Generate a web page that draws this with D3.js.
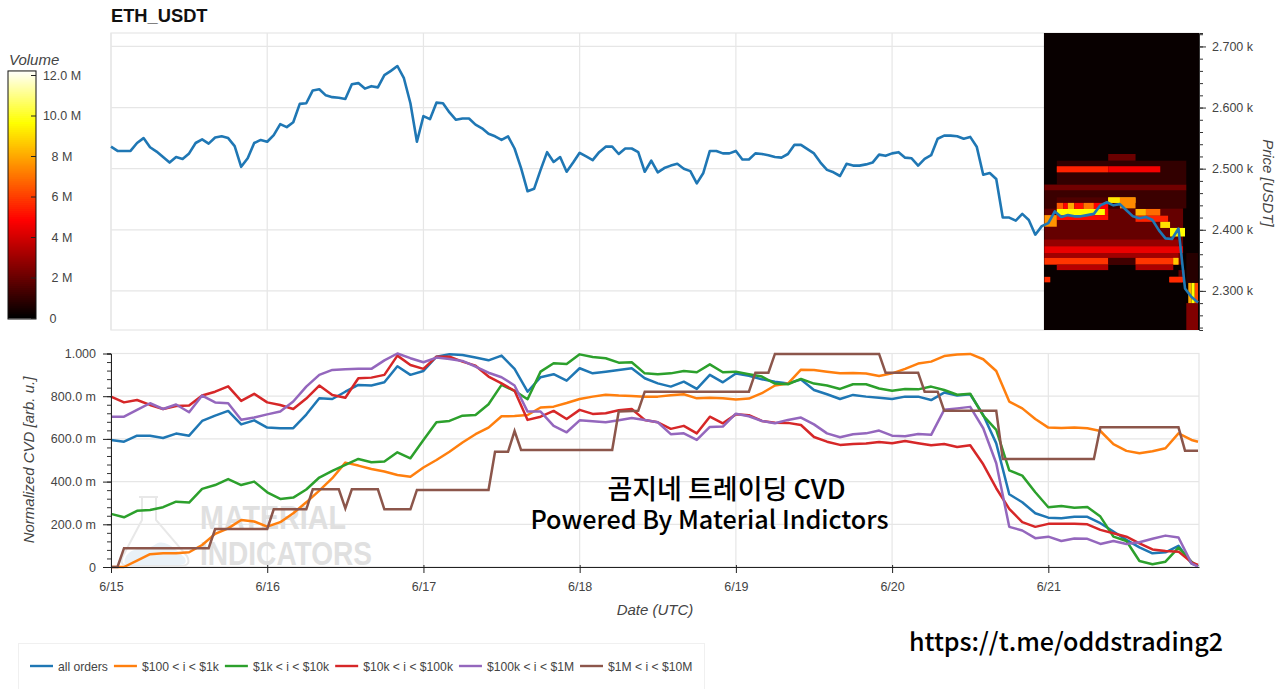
<!DOCTYPE html>
<html>
<head>
<meta charset="utf-8">
<script src="https://cdn.jsdelivr.net/npm/d3@7"></script>
<style>
    html, body { margin: 0; padding: 0; background: #fff; }
    svg { display: block; }
    text { font-family: "Liberation Sans", Arial, sans-serif; }
    .tick text { font-size: 12.5px; fill: #444; }
    .axisLabel { font-size: 15px; font-style: italic; fill: #444; }
    .caption { font-family: "Noto Sans CJK KR", sans-serif; font-weight: 500; fill: #000; }
</style>
</head>
<body>
<svg id="chart" width="1280" height="689"></svg>
<script>
// values
var seriesNames = ["all orders", "$100 < i < $1k", "$1k < i < $10k", "$10k < i < $100k", "$100k < i < $1M", "$1M < i < $10M"];
var seriesColors = ["#1f77b4", "#ff7f0e", "#2ca02c", "#d62728", "#9467bd", "#8c564b"];
var dayLabels = ["6/15", "6/16", "6/17", "6/18", "6/19", "6/20", "6/21"];

// hourly close, first hour is 6/15 00:00
var price = [
    2536,2529,2529,2529,2542,2550,2535,2528,2519,2510,2519,2516,2525,2542,2548,2541,2551,2553,2550,2537,2503,2517,2542,2547,
    2544,2555,2573,2568,2576,2606,2607,2628,2630,2620,2617,2616,2614,2638,2640,2631,2635,2633,2653,2660,2668,2648,2607,2544,
    2586,2581,2608,2607,2592,2580,2582,2582,2572,2566,2557,2553,2547,2553,2533,2501,2463,2467,2498,2527,2511,2519,2495,2510,
    2526,2520,2514,2527,2536,2536,2524,2533,2533,2527,2495,2513,2494,2501,2505,2508,2500,2496,2476,2493,2529,2529,2525,2525,
    2529,2515,2515,2525,2524,2522,2519,2518,2524,2539,2539,2532,2525,2510,2498,2494,2488,2508,2505,2505,2507,2510,2523,2521,
    2525,2527,2518,2517,2505,2516,2522,2549,2554,2554,2553,2549,2552,2536,2490,2493,2483,2420,2420,2415,2426,2416,2392,2406,
    2411,2430,2421,2424,2422,2422,2424,2426,2440,2445,2440,2442,2432,2422,2419,2421,2416,2399,2386,2385,2402,2304,2290,2281
];

// CVD, one value every 2 hours and a last one at hour 167 (milli units)
var cvdAll = [
    595,587,615,615,604,625,615,684,709,731,668,687,653,650,650,714,790,787,821,853,850,865,940,900,918,
    985,996,993,981,968,990,928,821,889,903,873,931,907,915,923,931,884,860,845,868,834,900,865,906,896,
    879,868,860,878,829,809,787,806,798,793,787,798,798,782,817,803,809,712,579,341,303,252,231,
    228,235,235,205,166,127,92,64,69,99,16,5
];
var cvd100 = [
    0,0,30,60,64,64,69,103,155,181,220,213,189,210,252,303,358,416,489,475,459,447,431,423,466,
    501,540,583,622,653,706,707,712,747,751,768,787,798,807,803,801,798,798,804,809,790,793,790,784,789,
    814,850,859,924,923,915,907,909,906,895,907,928,953,962,988,995,998,973,918,775,743,693,653,
    651,653,650,637,575,544,533,542,556,626,595,587
];
var cvd1k = [
    249,233,263,267,280,306,302,366,384,412,384,400,350,319,325,363,419,450,478,506,491,494,537,509,595,
    678,684,709,712,762,853,825,786,915,954,951,996,984,978,957,959,907,903,907,918,912,949,912,915,903,
    892,859,856,881,859,850,834,856,856,836,826,834,832,845,829,807,812,709,642,453,428,350,280,
    286,278,281,236,142,122,28,13,25,91,25,2
];
var cvd10k = [
    798,771,782,759,740,754,756,803,821,846,778,811,771,759,740,789,850,806,793,884,887,900,990,946,928,
    985,985,962,943,892,860,825,689,704,731,693,736,717,720,734,740,689,678,647,661,626,704,673,715,711,
    684,676,675,665,609,587,572,576,578,586,580,590,580,570,576,562,570,481,369,272,210,188,202,
    202,202,200,174,158,142,111,82,75,72,22,10
];
var cvd100k = [
    704,704,736,767,740,761,725,803,771,767,690,700,715,728,775,845,900,923,926,928,928,968,1000,978,959,
    981,974,965,939,910,889,850,728,728,661,631,687,683,678,687,698,689,678,622,626,595,656,658,718,706,
    684,673,689,700,668,626,608,622,626,639,615,612,623,619,736,743,750,650,486,188,171,135,142,
    122,133,132,108,122,108,116,132,147,138,17,2
];
// the $1M line only moves in steps so it keeps its own break points
var cvd1mHours = [0,1,2,15,16,24,25,30,31,35,36,37,41,42,46,47,58,59,61,62,63,77,78,81,82,98,99,101,102,118,119,124,125,127,128,136,137,151,152,164,165,167];
var cvd1m = [0,0,88,88,178,178,270,270,364,364,275,364,364,270,270,361,361,540,540,637,548,548,728,732,821,821,910,910,998,998,910,910,821,821,732,732,506,506,654,654,545,545];

// volume heatmap, drawn as blocks in this order (later ones lie on top)
var heatFrom = [145.3,153.2,143.4,143.4,145.3,143.4,145.3,153.2,153.2,145.3,146.3,147,148,149.4,151,153.2,155,145.3,152.7,157.4,159,145.3,157.4,143.4,161.2,162.7,143.4,143.4,143.4,143.4,153.2,157.4,163.2,145.3,157.4,164,162.6,143.4,162.6,165.2,165.2,165.5,166,166.5,165.2];
var heatTo = [165.2,157.4,165.2,165.2,153.2,164.7,153.2,161.2,157.4,146.3,147,148,149.4,151,153.2,155,157.4,152.7,153.2,159,161.2,153.2,162.4,145.3,162.7,165,164,164.7,164,153.2,157.4,164,164,153.2,163.2,165,165,144.3,164.6,167,167,166,166.5,167,167];
var heatHigh = [2513,2524,2474,2464,2504,2435,2453,2504,2453,2444,2444,2444,2444,2444,2444,2453,2453,2434,2434,2434,2434,2424,2423,2424,2413,2403,2384,2373,2362,2354,2354,2354,2354,2343,2343,2334,2323,2323,2323,2362,2280,2313,2313,2313,2236];
var heatLow = [2474,2513,2464,2435,2494,2343,2444,2494,2444,2434,2434,2434,2434,2434,2434,2444,2435,2424,2424,2423,2423,2416,2413,2405,2403,2389,2373,2362,2354,2343,2343,2343,2343,2334,2334,2323,2314,2314,2314,2313,2236,2280,2280,2280,2236];
var heatVolume = [0.9,2.0,2.1,1.1,5.4,1.9,1.5,4.6,8.4,6.5,4.8,8.0,5.0,7.0,4.8,9.2,7.4,9.6,5.0,8.2,6.8,5.0,5.4,7.6,9.0,9.6,2.8,4.4,3.0,5.8,1.2,5.8,8.6,3.4,3.2,1.8,5.6,5.6,5.6,0.7,2.4,8.0,9.6,6.2,2.4];

var priceTicks = [2300, 2400, 2500, 2600, 2700];
var priceMinor = d3.range(2240, 2721, 20);
var cvdTicks = [0, 200, 400, 600, 800, 1000];
var cvdMinor = d3.range(0, 1001, 40);
var volumeTicks = [0, 2, 4, 6, 8, 10, 12];

var t0 = Date.UTC(2021, 5, 15);
function hourDate(h) { return new Date(t0 + h * 3600e3); }
var cvdHours = d3.range(0, 167, 2).concat([167]);
var dayDates = dayLabels.map(function(d, i) { return hourDate(i * 24); });

var svg = d3.select("#chart");

var left = 111, right = 1199;
var x = d3.scaleUtc().domain([hourDate(0), hourDate(167.15)]).range([left, right]);
var yPrice = d3.scaleLinear().domain([2236, 2722]).range([330, 33]);
var yCvd = d3.scaleLinear().domain([0, 1000]).range([567, 353.5]);
var yVol = d3.scaleLinear().domain([0, 12]).range([318, 75]);

var hot = d3.scaleLinear()
    .domain([0, 4.8, 9.6, 12.2])
    .range(["#000000", "#ff0000", "#ffff00", "#ffffff"])
    .clamp(true);

// the heatmap in the picture is a little soft
var blur = svg.append("defs").append("filter").attr("id", "soft");
blur.append("feGaussianBlur").attr("stdDeviation", 0.7);
svg.select("defs").append("clipPath").attr("id", "heatClip").append("rect")
    .attr("x", x(hourDate(143.3))).attr("y", yPrice(2722))
    .attr("width", x(hourDate(167.15)) - x(hourDate(143.3)))
    .attr("height", yPrice(2236) - yPrice(2722));

function grid(g, top, bottom, yScale, ticks) {
    g.selectAll(".v").data(dayDates).enter().append("line")
        .attr("x1", x).attr("x2", x).attr("y1", top).attr("y2", bottom)
        .attr("stroke", "#e6e6e6").attr("stroke-width", 1.2);
    g.selectAll(".h").data(ticks).enter().append("line")
        .attr("x1", left).attr("x2", right).attr("y1", yScale).attr("y2", yScale)
        .attr("stroke", "#e6e6e6").attr("stroke-width", 1.2);
    g.append("rect").attr("x", left).attr("y", top).attr("width", right - left).attr("height", bottom - top)
        .attr("fill", "none").attr("stroke", "#e6e6e6").attr("stroke-width", 1.2);
}

// title
svg.append("text").attr("x", 111).attr("y", 22)
    .style("font-size", "18.3px").style("font-weight", "bold").attr("fill", "#111")
    .text("ETH_USDT");

// ---- price panel
grid(svg.append("g"), 33, 330, yPrice, priceTicks);

var heatBox = svg.append("g").attr("clip-path", "url(#heatClip)");
heatBox.append("rect")
    .attr("x", x(hourDate(143.3))).attr("y", yPrice(2722))
    .attr("width", x(hourDate(167.15)) - x(hourDate(143.3)))
    .attr("height", yPrice(2236) - yPrice(2722))
    .attr("fill", hot(0.15));
var heat = heatBox.append("g").attr("filter", "url(#soft)");
heat.selectAll(".cell").data(heatVolume).enter().append("rect")
    .attr("x", function(d, i) { return x(hourDate(heatFrom[i])); })
    .attr("width", function(d, i) { return x(hourDate(heatTo[i])) - x(hourDate(heatFrom[i])); })
    .attr("y", function(d, i) { return yPrice(heatHigh[i]); })
    .attr("height", function(d, i) { return yPrice(heatLow[i]) - yPrice(heatHigh[i]); })
    .attr("fill", function(d) { return hot(d); });

var priceLine = d3.line()
    .x(function(d, i) { return x(hourDate(i)); })
    .y(function(d) { return yPrice(d); });
svg.append("path").datum(price)
    .attr("d", priceLine)
    .attr("fill", "none")
    .attr("stroke", seriesColors[0])
    .attr("stroke-width", 2.6)
    .attr("stroke-linejoin", "round");

var priceAxis = svg.append("g").attr("transform", "translate(" + right + ",0)");
priceAxis.call(d3.axisRight(yPrice).tickValues(priceMinor).tickSize(4).tickFormat(""));
priceAxis.selectAll(".tick line").attr("stroke", "#333");
var priceMajor = svg.append("g").attr("transform", "translate(" + right + ",0)");
priceMajor.call(d3.axisRight(yPrice).tickValues(priceTicks).tickSize(7).tickPadding(6)
    .tickFormat(function(d) { return d3.format(".3f")(d / 1000) + " k"; }));
priceMajor.select(".domain").remove();
priceMajor.selectAll(".tick line").attr("stroke", "#333");
priceAxis.select(".domain").attr("stroke", "#333");

svg.append("text").attr("class", "axisLabel")
    .attr("transform", "translate(1263,183) rotate(90)")
    .attr("text-anchor", "middle")
    .text("Price [USDT]");

// ---- colour bar
var colorBar = svg.append("g");
var barSteps = d3.range(0, 12.2, 0.1);
colorBar.selectAll("rect").data(barSteps).enter().append("rect")
    .attr("x", 8).attr("width", 28)
    .attr("y", function(d) { return yVol(d + 0.1) - 0.5; })
    .attr("height", function(d) { return yVol(d) - yVol(d + 0.1) + 1; })
    .attr("fill", function(d) { return hot(d); });
colorBar.append("rect")
    .attr("x", 8).attr("y", yVol(12.2)).attr("width", 28).attr("height", yVol(0) - yVol(12.2) + 1)
    .attr("fill", "none").attr("stroke", "#111").attr("stroke-width", 1);
var volAxis = svg.append("g").attr("transform", "translate(36,0)");
volAxis.call(d3.axisLeft(yVol).tickValues(volumeTicks).tickSize(5).tickFormat(""));
volAxis.select(".domain").remove();
volAxis.selectAll(".tick line").attr("stroke", "#222");
svg.append("g").selectAll("text").data(volumeTicks).enter().append("text")
    .attr("x", function(d) { return d == 0 ? 53 : 62; })
    .attr("y", function(d) { return yVol(d) + 4.5; })
    .attr("text-anchor", "middle")
    .style("font-size", "12.5px").attr("fill", "#444")
    .text(function(d) { return d == 0 ? "0" : d >= 10 ? d3.format(".1f")(d) + " M" : d + " M"; });
svg.append("text").attr("class", "axisLabel").attr("x", 9).attr("y", 65).text("Volume");

// ---- CVD panel
grid(svg.append("g"), 353.5, 567, yCvd, cvdTicks);

// watermark sits under the lines
var mark = svg.append("g");
mark.append("path")
    .attr("d", "M126,556 C136,544 146,552 156,544 C166,538 178,552 185,558 Q188,565 180,565 L128,565 Q122,565 126,556 Z")
    .attr("fill", "#e9f1f7");
mark.append("path")
    .attr("d", "M139,497 L158,497 M142,497 L142,520 L123,556 Q118,566 130,566 L180,566 Q192,566 187,556 L156,520 L156,497")
    .attr("fill", "none").attr("stroke", "#e8e8e8").attr("stroke-width", 2);
mark.append("text").attr("x", 200).attr("y", 529)
    .style("font-size", "33px").style("font-weight", "bold").attr("fill", "#e0e0e0")
    .attr("textLength", 146).attr("lengthAdjust", "spacingAndGlyphs").text("MATERIAL");
mark.append("text").attr("x", 200).attr("y", 565)
    .style("font-size", "33px").style("font-weight", "bold").attr("fill", "#e0e0e0")
    .attr("textLength", 172).attr("lengthAdjust", "spacingAndGlyphs").text("INDICATORS");

var cvdLine = d3.line()
    .x(function(d, i) { return x(hourDate(cvdHours[i])); })
    .y(function(d) { return yCvd(d); });
var stepLine = d3.line()
    .x(function(d, i) { return x(hourDate(cvd1mHours[i])); })
    .y(function(d) { return yCvd(d); });

var cvdSeries = [cvdAll, cvd100, cvd1k, cvd10k, cvd100k];
svg.append("g").selectAll("path").data(cvdSeries).enter().append("path")
    .attr("d", cvdLine)
    .attr("fill", "none")
    .attr("stroke", function(d, i) { return seriesColors[i]; })
    .attr("stroke-width", 2.5)
    .attr("stroke-linejoin", "round");
svg.append("path").datum(cvd1m)
    .attr("d", stepLine)
    .attr("fill", "none")
    .attr("stroke", seriesColors[5])
    .attr("stroke-width", 2.5);

var cvdFormat = function(d) {
    if (d == 0) return "0";
    if (d == 1000) return "1.000";
    return d3.format(".1f")(d) + " m";
};
var cvdAxisMinor = svg.append("g").attr("transform", "translate(" + left + ",0)");
cvdAxisMinor.call(d3.axisLeft(yCvd).tickValues(cvdMinor).tickSize(4).tickFormat(""));
cvdAxisMinor.selectAll(".tick line").attr("stroke", "#333");
cvdAxisMinor.select(".domain").attr("stroke", "#222");
var cvdAxisMajor = svg.append("g").attr("transform", "translate(" + left + ",0)");
cvdAxisMajor.call(d3.axisLeft(yCvd).tickValues(cvdTicks).tickSize(8).tickPadding(7).tickFormat(cvdFormat));
cvdAxisMajor.select(".domain").remove();
cvdAxisMajor.selectAll(".tick line").attr("stroke", "#222");

var xAxis = svg.append("g").attr("transform", "translate(0,567)");
xAxis.call(d3.axisBottom(x).tickValues(dayDates).tickSize(6).tickSizeOuter(0).tickPadding(9)
    .tickFormat(function(d, i) { return dayLabels[i]; }));
xAxis.select(".domain").attr("stroke", "#222");
xAxis.selectAll(".tick line").attr("stroke", "#222").attr("y1", -2);

svg.append("text").attr("class", "axisLabel")
    .attr("transform", "translate(34,460) rotate(-90)")
    .attr("text-anchor", "middle")
    .text("Normalized CVD [arb. u.]");
svg.append("text").attr("class", "axisLabel")
    .attr("x", 655).attr("y", 615).attr("text-anchor", "middle")
    .text("Date (UTC)");

// ---- added captions
svg.append("text").attr("class", "caption").attr("x", 726.5).attr("y", 499).attr("text-anchor", "middle")
    .style("font-size", "27px")
    .text("곰지네 트레이딩 CVD");
svg.append("text").attr("class", "caption").attr("x", 709.5).attr("y", 529).attr("text-anchor", "middle")
    .style("font-size", "25.2px")
    .text("Powered By Material Indictors");
svg.append("text").attr("class", "caption").attr("x", 1066).attr("y", 651).attr("text-anchor", "middle")
    .style("font-size", "25.1px")
    .text("https://t.me/oddstrading2");

// ---- legend
svg.append("rect").attr("x", 18.5).attr("y", 643.5).attr("width", 686).attr("height", 60)
    .attr("fill", "#fff").attr("stroke", "#f0f0f0");
var legendX = 30;
seriesNames.forEach(function(name, i) {
    svg.append("line")
        .attr("x1", legendX).attr("x2", legendX + 23).attr("y1", 666).attr("y2", 666)
        .attr("stroke", seriesColors[i]).attr("stroke-width", 2.4);
    var label = svg.append("text")
        .attr("x", legendX + 28).attr("y", 670.5)
        .style("font-size", "12.15px").attr("fill", "#444")
        .text(name);
    legendX += 28 + label.node().getComputedTextLength() + 6;
});
</script>
</body>
</html>
